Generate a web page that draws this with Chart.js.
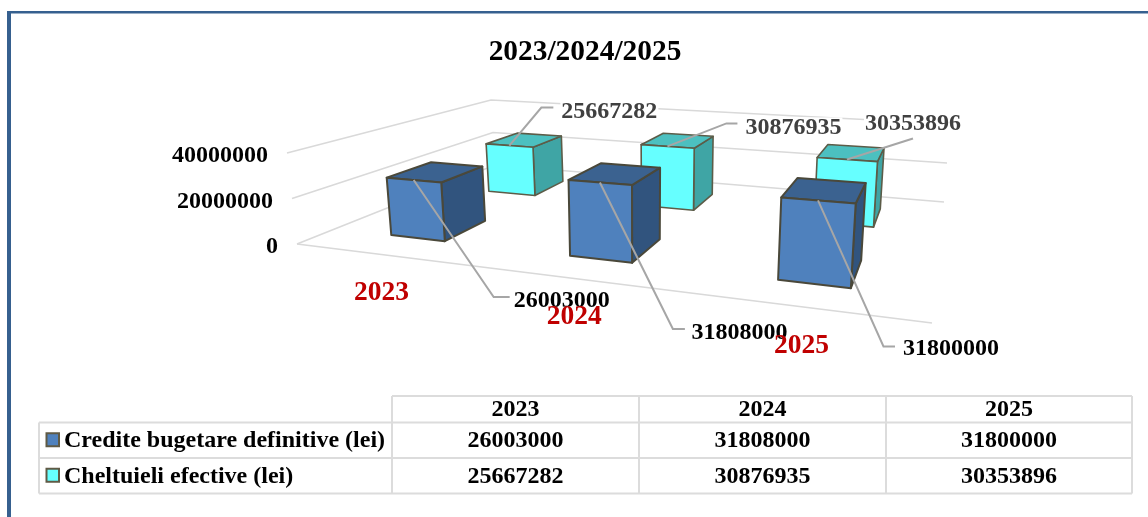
<!DOCTYPE html>
<html>
<head>
<meta charset="utf-8">
<style>html,body{margin:0;padding:0;background:#fff}canvas{display:block}</style>
<script src="https://cdn.jsdelivr.net/npm/chart.js@4/dist/chart.umd.min.js"></script>
</head>
<body>
<canvas id="c" width="1148" height="517"></canvas>
<script>
const categories = ["2023", "2024", "2025"];
const crediteBugetare = [26003000, 31808000, 31800000];
const cheltuieliEfective = [25667282, 30876935, 30353896];
const seriesNames = ["Credite bugetare definitive (lei)", "Cheltuieli efective (lei)"];
const yTickValues = [0, 20000000, 40000000];
const yTickLabels = ["0", "20000000", "40000000"];
const chartTitle = "2023/2024/2025";

const SERIF = '"Liberation Serif", "Times New Roman", serif';
const FLOOR = {fl:[297,244], fr:[932,323], br:[944,202], bl:[495,165]};
const TOP   = {fl:[287,153], fr:[941,205], br:[950,124], bl:[491,100]};
const DEPTH = [[0.146,0.348],[0.650,0.852]];
const FACES = [
  {front:"#4f81bd", right:"#31547e", top:"#3b6290", edge:"#4a483a", lw:2, swatch:"#4f81bd", text:"#000000", labelBg:false},
  {front:"#66ffff", right:"#3fa5a5", top:"#4cc0c0", edge:"#5c5c48", lw:1.6, swatch:"#66ffff", text:"#404040", labelBg:true}
];
// leader line bends and label anchors, relative to the top-front midpoint of each bar
const LEADERS = [
  [{bend:[80,117],end:[96,117],tx:100,ty:121},{bend:[73,146.5],end:[85,146.5],tx:91.5,ty:150},{bend:[65.5,146],end:[77,146],tx:85,ty:148}],
  [{bend:[32,-38],end:[44,-38],tx:52,ty:-34},{bend:[59,-23],end:[70,-23],tx:78,ty:-19},{bend:[66,-21],end:null,tx:18,ty:-36}]
];

function squareToQuad(q){
  const [x0,y0]=q.fl,[x1,y1]=q.fr,[x2,y2]=q.br,[x3,y3]=q.bl;
  const dx1=x1-x2,dx2=x3-x2,sx=x0-x1+x2-x3,dy1=y1-y2,dy2=y3-y2,sy=y0-y1+y2-y3;
  const det=dx1*dy2-dx2*dy1;
  const g=(sx*dy2-dx2*sy)/det,h=(dx1*sy-sx*dy1)/det;
  const a=x1-x0+g*x1,b=x3-x0+h*x3,d=y1-y0+g*y1,e=y3-y0+h*y3;
  return (u,v)=>{const w=g*u+h*v+1;return [(a*u+b*v+x0)/w,(d*u+e*v+y0)/w];};
}
const floorAt=squareToQuad(FLOOR), topAt=squareToQuad(TOP);
function project(u,v,t){
  const p=floorAt(u,v),q=topAt(u,v);
  return [p[0]+(q[0]-p[0])*t,p[1]+(q[1]-p[1])*t];
}
function poly(ctx,pts,fill,stroke,lw){
  ctx.beginPath();
  pts.forEach((p,i)=>i?ctx.lineTo(p[0],p[1]):ctx.moveTo(p[0],p[1]));
  ctx.closePath();
  ctx.fillStyle=fill;ctx.fill();
  ctx.lineJoin="round";ctx.lineWidth=lw;ctx.strokeStyle=stroke;ctx.stroke();
}
function segs(ctx,pts,color,lw){
  ctx.beginPath();
  pts.forEach((p,i)=>i?ctx.lineTo(p[0],p[1]):ctx.moveTo(p[0],p[1]));
  ctx.lineWidth=lw;ctx.strokeStyle=color;ctx.lineJoin="miter";ctx.stroke();
}
function text(ctx,s,x,y,font,color,align){
  ctx.font=font;ctx.fillStyle=color;ctx.textAlign=align||"center";ctx.textBaseline="middle";ctx.fillText(s,x,y);
}

const scene3d={
  id:"scene3d",
  beforeDraw(chart){
    const ctx=chart.ctx;
    ctx.save();
    ctx.fillStyle="#fff";ctx.fillRect(0,0,chart.width,chart.height);
    ctx.fillStyle="#36608f";
    ctx.fillRect(7,11,chart.width-7,2.5);
    ctx.fillRect(7,11,4,chart.height-11);
    ctx.restore();
  },
  beforeDatasetDraw(){return false;},
  afterDatasetsDraw(chart){
    const ctx=chart.ctx,area=chart.chartArea,ys=chart.scales.y,xs=chart.scales.x;
    const norm=v=>(ys.getPixelForValue(0)-ys.getPixelForValue(v))/(ys.getPixelForValue(0)-ys.getPixelForValue(ys.max));
    ctx.save();
    // back wall, side wall and floor
    yTickValues.forEach((val,i)=>{
      const t=norm(val);
      segs(ctx,[project(0,0,t),project(0,1,t),project(1,1,t)],"#d9d9d9",1.7);
      const p=project(0,0,t);
      text(ctx,yTickLabels[i],p[0]-19,p[1]+3,"bold 24px "+SERIF,"#000","right");
    });
    segs(ctx,[project(0,0,0),project(1,0,0)],"#d9d9d9",1.7);
    // bars, far series first
    const tops=[[],[]];
    [1,0].forEach(ds=>{
      const meta=chart.getDatasetMeta(ds),f=FACES[ds],[v0,v1]=DEPTH[ds];
      meta.data.forEach((el,i)=>{
        const uc=(el.x-area.left)/area.width,hw=el.width/2/area.width;
        const u0=uc-hw,u1=uc+hw,t=(el.base-el.y)/area.height;
        poly(ctx,[project(u1,v0,0),project(u1,v1,0),project(u1,v1,t),project(u1,v0,t)],f.right,f.edge,f.lw);
        poly(ctx,[project(u0,v0,t),project(u1,v0,t),project(u1,v1,t),project(u0,v1,t)],f.top,f.edge,f.lw);
        poly(ctx,[project(u0,v0,0),project(u1,v0,0),project(u1,v0,t),project(u0,v0,t)],f.front,f.edge,f.lw);
        tops[ds][i]=project(uc,v0,t);
      });
    });
    // leader lines and value labels
    [0,1].forEach(ds=>{
      chart.data.datasets[ds].data.forEach((val,i)=>{
        const s=tops[ds][i],l=LEADERS[ds][i];
        const pts=[s,[s[0]+l.bend[0],s[1]+l.bend[1]]];
        if(l.end)pts.push([s[0]+l.end[0],s[1]+l.end[1]]);
        segs(ctx,pts,"#a6a6a6",2);
      });
    });
    [0,1].forEach(ds=>{
      chart.data.datasets[ds].data.forEach((val,i)=>{
        const s=tops[ds][i],l=LEADERS[ds][i],x=s[0]+l.tx,y=s[1]+l.ty;
        ctx.font="bold 24px "+SERIF;
        if(FACES[ds].labelBg){
          ctx.fillStyle="#fff";
          ctx.fillRect(x-1,y-10,ctx.measureText(String(val)).width+2,20);
        }
        text(ctx,String(val),x,y,"bold 24px "+SERIF,FACES[ds].text,"left");
      });
    });
    // category labels under the floor's front edge
    xs.ticks.forEach((tk,i)=>{
      const u=(xs.getPixelForTick(i)-area.left)/area.width;
      const p=project(u,0,0);
      text(ctx,categories[i],p[0]-1.2,p[1]+38.5,"bold 27.5px "+SERIF,"#c00000");
    });
    ctx.restore();
    drawTable(chart);
  }
};

function drawTable(chart){
  const ctx=chart.ctx;
  const colX=[39,392,639,886,1132],rowY=[396,422.5,458,493.5];
  ctx.save();
  ctx.strokeStyle="#dcdcdc";ctx.lineWidth=2;
  ctx.beginPath();
  ctx.moveTo(colX[1],rowY[0]);ctx.lineTo(colX[4],rowY[0]);
  for(let r=1;r<4;r++){ctx.moveTo(colX[0],rowY[r]);ctx.lineTo(colX[4],rowY[r]);}
  ctx.moveTo(colX[0],rowY[1]);ctx.lineTo(colX[0],rowY[3]);
  for(let c=1;c<5;c++){ctx.moveTo(colX[c],rowY[0]);ctx.lineTo(colX[c],rowY[3]);}
  ctx.stroke();
  const font="bold 24px "+SERIF;
  categories.forEach((c,i)=>text(ctx,c,(colX[i+1]+colX[i+2])/2,(rowY[0]+rowY[1])/2+1,font,"#000"));
  chart.data.datasets.forEach((ds,r)=>{
    const yc=(rowY[r+1]+rowY[r+2])/2;
    ctx.fillStyle=FACES[r].swatch;ctx.strokeStyle="#5f5a45";ctx.lineWidth=2;
    ctx.fillRect(46.5,yc-7,12.5,13);ctx.strokeRect(46.5,yc-7,12.5,13);
    text(ctx,seriesNames[r],64,yc+1,font,"#000","left");
    ds.data.forEach((v,i)=>text(ctx,String(v),(colX[i+1]+colX[i+2])/2,yc+1,font,"#000"));
  });
  ctx.restore();
}

new Chart(document.getElementById("c"),{
  type:"bar",
  data:{labels:categories,datasets:[
    {label:seriesNames[0],data:crediteBugetare,backgroundColor:FACES[0].front},
    {label:seriesNames[1],data:cheltuieliEfective,backgroundColor:FACES[1].front}
  ]},
  options:{
    responsive:false,animation:false,
    datasets:{bar:{grouped:false,categoryPercentage:0.315,barPercentage:1}},
    layout:{padding:{left:22,top:35}},
    plugins:{
      legend:{display:false},tooltip:{enabled:false},
      title:{display:true,text:chartTitle,color:"#000",font:{family:SERIF,size:29.4,weight:"bold"},padding:{top:0,bottom:0}}
    },
    scales:{
      x:{display:false},
      y:{display:false,min:0,max:40000000,ticks:{stepSize:20000000}}
    }
  },
  plugins:[scene3d]
});
</script>
</body>
</html>
